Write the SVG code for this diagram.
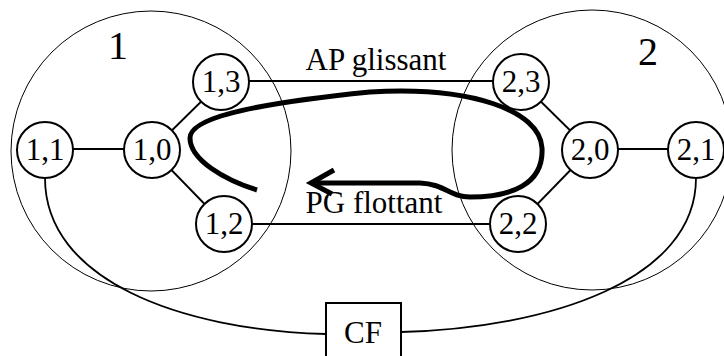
<svg xmlns="http://www.w3.org/2000/svg" width="724" height="356" viewBox="0 0 724 356">
<style>
.t{font-family:"Liberation Serif","Times New Roman",serif;fill:#000;text-anchor:middle}
.n circle{fill:#fff;stroke:#000;stroke-width:2}
.n text{font-size:31px}
.e{stroke:#000;stroke-width:1.8;fill:none}
.big{fill:none;stroke:#000;stroke-width:1}
</style>
<rect width="724" height="356" fill="#fff"/>
<g id="cluster1"><circle class="big" cx="151" cy="151" r="140"/><text class="t" x="118" y="59" font-size="40">1</text></g>
<g id="cluster2"><circle class="big" cx="592" cy="150" r="140"/><text class="t" x="648" y="65" font-size="40">2</text></g>
<g id="connectors">
<path class="e" d="M45,178 C45,280 180,330 326,334"/>
<path class="e" d="M401,332 C550,328 696,280 696,178"/>
<line class="e" x1="45" y1="149" x2="152" y2="149"/>
<line class="e" x1="152" y1="150" x2="221" y2="82"/>
<line class="e" x1="152" y1="150" x2="224" y2="224"/>
<line class="e" x1="221" y1="81" x2="521" y2="81"/>
<line class="e" x1="224" y1="224" x2="518" y2="224"/>
<line class="e" x1="521" y1="82" x2="590" y2="150"/>
<line class="e" x1="590" y1="150" x2="518" y2="224"/>
<line class="e" x1="590" y1="149" x2="696" y2="149"/>
<text class="t" x="376" y="70" font-size="31">AP glissant</text>
<text class="t" x="374" y="213" font-size="31">PG flottant</text>
<path d="M257,190 C225,180 190,160 190,138 C190,120 240,105 370,92 C470,86 540,110 542,148 C544,185 510,197 470,197 C450,197 445,184 420,183 L312,183" fill="none" stroke="#000" stroke-width="5"/>
<path d="M334,170 L311,183 L332,194" fill="none" stroke="#000" stroke-width="5" stroke-linejoin="miter"/>
</g>
<g id="n11" class="n"><circle cx="45" cy="150" r="28"/><text class="t" x="45" y="160">1,1</text></g>
<g id="n10" class="n"><circle cx="152" cy="150" r="28"/><text class="t" x="152" y="160">1,0</text></g>
<g id="n13" class="n"><circle cx="221" cy="82" r="28"/><text class="t" x="221" y="92">1,3</text></g>
<g id="n12" class="n"><circle cx="224" cy="224" r="28"/><text class="t" x="224" y="234">1,2</text></g>
<g id="n23" class="n"><circle cx="521" cy="82" r="28"/><text class="t" x="521" y="92">2,3</text></g>
<g id="n22" class="n"><circle cx="518" cy="224" r="28"/><text class="t" x="518" y="234">2,2</text></g>
<g id="n20" class="n"><circle cx="590" cy="150" r="28"/><text class="t" x="590" y="160">2,0</text></g>
<g id="n21" class="n"><circle cx="696" cy="150" r="28"/><text class="t" x="696" y="160">2,1</text></g>
<g id="cf"><rect x="326" y="303" width="75" height="60" fill="#fff" stroke="#000" stroke-width="2"/><text class="t" x="363" y="343" font-size="31">CF</text></g>
</svg>
